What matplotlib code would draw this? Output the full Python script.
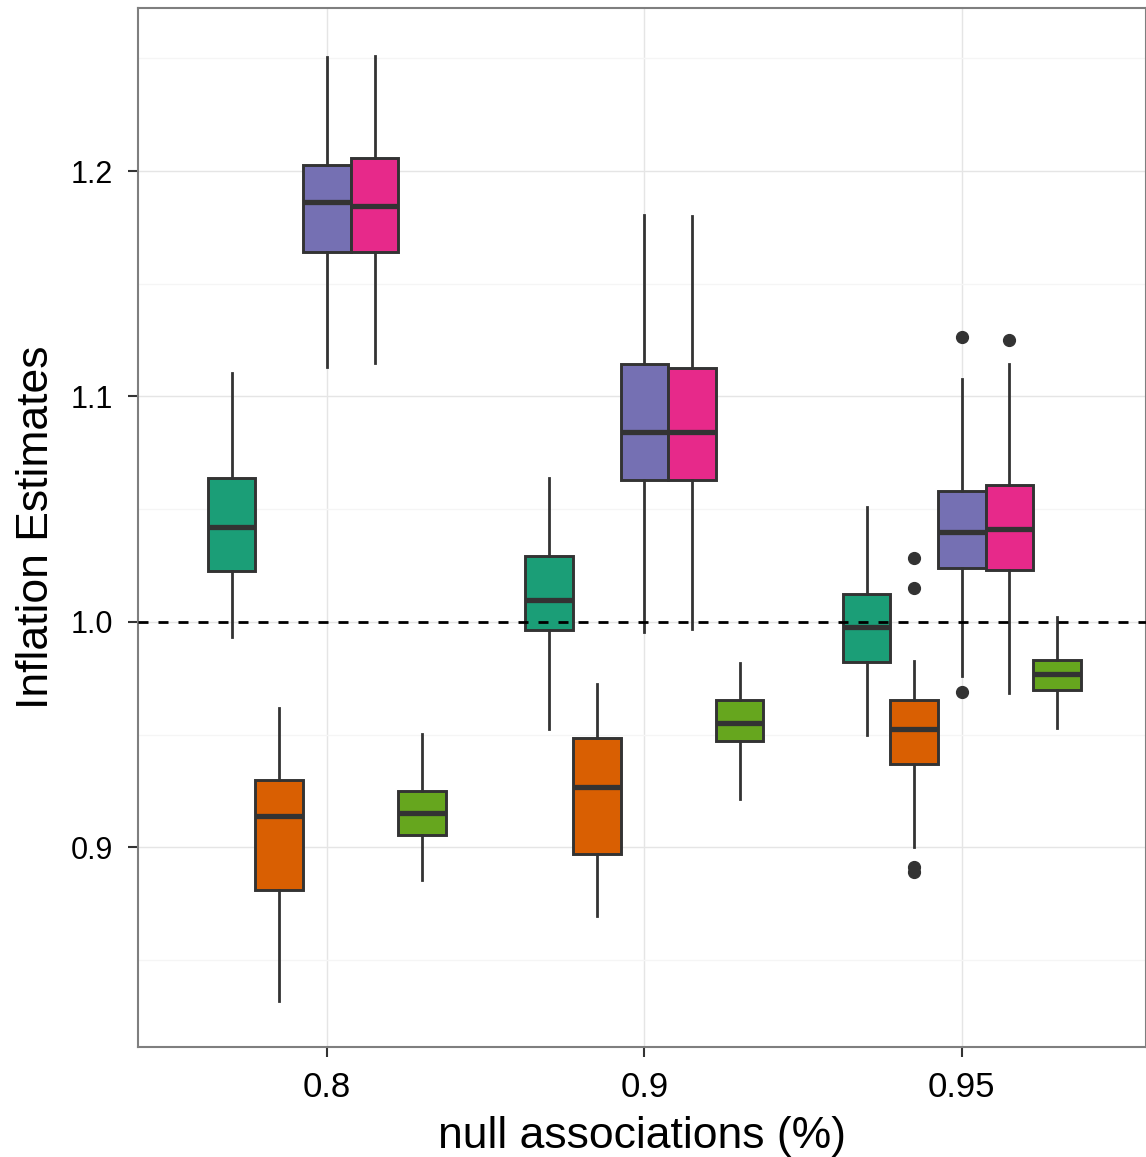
import matplotlib
matplotlib.use("Agg")
import matplotlib.pyplot as plt
from matplotlib.ticker import MultipleLocator

plt.rcParams['font.family'] = ['Liberation Sans', 'DejaVu Sans']

categories = ["0.8", "0.9", "0.95"]
series = ["s1", "s2", "s3", "s4", "s5"]
colors = ["#1B9E77", "#D95F02", "#7570B3", "#E7298A", "#66A61E"]

# per series: values for the three categories
whislo = [
    [0.9932, 0.9524, 0.9498],
    [0.8318, 0.8696, 0.9001],
    [1.1132, 0.9957, 0.9762],
    [1.1147, 0.9968, 0.9686],
    [0.8854, 0.9214, 0.9531],
]
q1 = [
    [1.0227, 0.9966, 0.9821],
    [0.8812, 0.8970, 0.9369],
    [1.1642, 1.0628, 1.0238],
    [1.1642, 1.0628, 1.0231],
    [0.9056, 0.9471, 0.9696],
]
med = [
    [1.0422, 1.0096, 0.9976],
    [0.9141, 0.9270, 0.9527],
    [1.1864, 1.0843, 1.0399],
    [1.1845, 1.0843, 1.0411],
    [0.9153, 0.9553, 0.9768],
]
q3 = [
    [1.0639, 1.0293, 1.0123],
    [0.9298, 0.9487, 0.9654],
    [1.2027, 1.1143, 1.0581],
    [1.2059, 1.1125, 1.0608],
    [0.9251, 0.9655, 0.9831],
]
whishi = [
    [1.1103, 1.0640, 1.0511],
    [0.9618, 0.9724, 0.9827],
    [1.2504, 1.1806, 1.1076],
    [1.2510, 1.1800, 1.1143],
    [0.9502, 0.9820, 1.0024],
]
outliers = [
    [[], [], []],
    [[], [], [1.0282, 1.0152, 0.8915, 0.8893]],
    [[], [], [1.1263, 0.9688]],
    [[], [], [1.1251]],
    [[], [], []],
]

fig = plt.figure(figsize=(11.46, 11.57), dpi=100)
ax = fig.add_axes([0.1204, 0.0951, 0.8796, 0.898])

n = len(series)
dodge = 0.75
w = dodge / n
for i in range(n):
    stats = []
    pos = []
    for j in range(len(categories)):
        stats.append(dict(med=med[i][j], q1=q1[i][j], q3=q3[i][j],
                          whislo=whislo[i][j], whishi=whishi[i][j],
                          fliers=outliers[i][j]))
        pos.append(j + 1 + (i - (n - 1) / 2) * w)
    ax.bxp(stats, positions=pos, widths=w, patch_artist=True, showcaps=False,
           boxprops=dict(facecolor=colors[i], edgecolor="#333333", linewidth=2.1),
           whiskerprops=dict(color="#333333", linewidth=2.0),
           medianprops=dict(color="#333333", linewidth=3.8, solid_capstyle="butt"),
           flierprops=dict(marker="o", markerfacecolor="#333333",
                           markeredgecolor="#333333", markersize=8.5),
           manage_ticks=False, zorder=3)

ax.axhline(1.0, color="black", linewidth=2, linestyle=(0, (3.6, 3.6)), zorder=5)

ax.set_xlim(0.405, 3.58)
ax.set_ylim(0.8115, 1.2723)
ax.set_xticks([1, 2, 3])
ax.set_xticklabels(categories)
ax.yaxis.set_major_locator(MultipleLocator(0.1))
ax.yaxis.set_minor_locator(MultipleLocator(0.05))
ax.set_yticks([0.9, 1.0, 1.1, 1.2])
ax.set_yticklabels(["0.9", "1.0", "1.1", "1.2"])

ax.grid(True, which="major", color="#e5e5e5", linewidth=1.0, zorder=0)
ax.grid(True, which="minor", axis="y", color="#f5f5f5", linewidth=1.0, zorder=0)
ax.set_axisbelow(True)
ax.tick_params(which="minor", length=0)
ax.tick_params(axis="y", which="major", labelsize=22, length=7, width=1.5,
               color="#333333", pad=11)
ax.tick_params(axis="x", which="major", labelsize=25, length=7, width=1.5,
               color="#333333", pad=10)
for s in ax.spines.values():
    s.set_color("#7f7f7f")
    s.set_linewidth(1.5)

ax.set_xlabel("null associations (%)", fontsize=32, labelpad=9)
ax.set_ylabel("Inflation Estimates", fontsize=32, labelpad=10)

fig.savefig("out.png", dpi=100)
